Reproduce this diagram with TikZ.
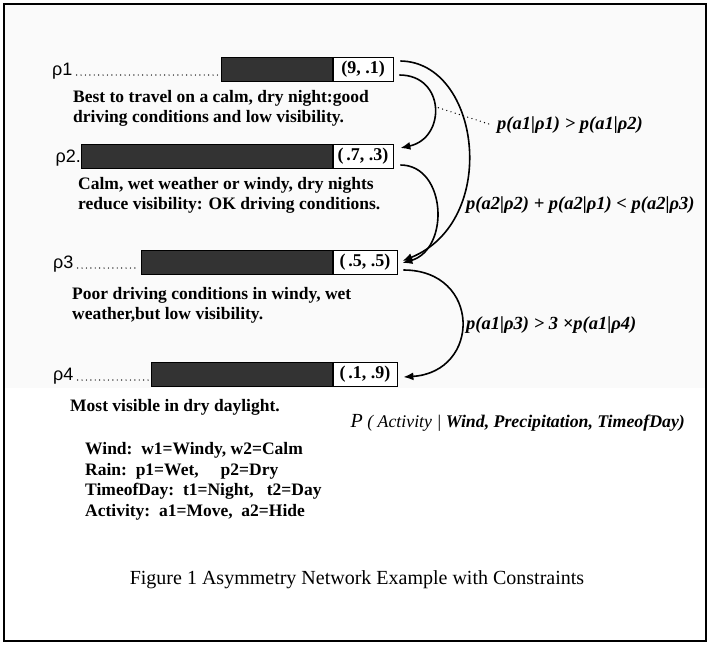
\documentclass[tikz,border=0pt]{standalone}
\usepackage{fontspec}
\setmainfont{Liberation Serif}
\newfontfamily\rhofont{Liberation Sans}
\usetikzlibrary{arrows.meta, positioning}

\begin{document}
\begin{tikzpicture}[
  x=1pt, y=-1pt,
  bar/.style={rectangle, draw=black, fill=black!80, minimum height=24pt,
    inner sep=0pt},
  valbox/.style={rectangle, draw=black, fill=white, thick, minimum height=24pt,
    minimum width=60pt, inner sep=0pt,
    font=\fontsize{18}{18}\selectfont\bfseries},
  rholab/.style={font=\rhofont\fontsize{18}{18}\selectfont, inner sep=0pt,
    anchor=base west},
  desc/.style={align=left, anchor=north west, inner sep=0pt,
    font=\fontsize{17.5}{20}\selectfont\bfseries},
  cons/.style={anchor=west, inner sep=0pt,
    font=\fontsize{18.5}{18.5}\selectfont\bfseries\itshape},
  leader/.style={line width=1.4pt, line cap=round, dash pattern=on 0pt off 4.4pt},
  arr/.style={-{Latex[length=10pt, width=8pt]}, line width=1.6pt},
]
  \useasboundingbox (0,0) rectangle (711,646);
  \fill[black!2] (5,5) rectangle (705,388);
  \draw[line width=1.6pt] (4,4) rectangle (706,641);

  % Rows
  \node[valbox] (v1) at (363,69) {(9, .1)};
  \node[bar, minimum width=111pt, left=0pt of v1] (b1) {};
  \node[rholab] (r1) at (52,75) {ρ1};
  \draw[leader] ([xshift=4pt]r1.base east) -- ([xshift=-2pt]b1.west |- r1.base);
  \node[desc] (d1) at (73,90) {Best to travel on a calm, dry night:good\\
    driving conditions and low visibility.};

  \node[valbox] (v2) at (363,156) {(\,.7, .3)};
  \node[bar, minimum width=251pt, left=0pt of v2] (b2) {};
  \node[rholab, anchor=base east] (r2) at (b2.west |- 0,162) {ρ2.};
  \node[desc] (d2) at (78,177) {Calm, wet weather or windy, dry nights\\
    reduce visibility: OK driving conditions.};

  \node[valbox, minimum width=64pt] (v3) at (365,262) {(\,.5, .5)};
  \node[bar, minimum width=191pt, left=0pt of v3] (b3) {};
  \node[rholab] (r3) at (53,268) {ρ3};
  \draw[leader] ([xshift=4pt]r3.base east) -- ([xshift=-2pt]b3.west |- r3.base);
  \node[desc] (d3) at (72,287) {Poor driving conditions in windy, wet\\
    weather,but low visibility.};

  \node[valbox, minimum width=64pt] (v4) at (365,374) {(\,.1, .9)};
  \node[bar, minimum width=181pt, left=0pt of v4] (b4) {};
  \node[rholab] (r4) at (53,380) {ρ4};
  \draw[leader] ([xshift=4pt]r4.base east) -- ([xshift=-2pt]b4.west |- r4.base);
  \node[desc] (d4) at (70,399) {Most visible in dry daylight.};

  % Constraint arrows
  \draw[arr] ([shift={(6,6)}]v1.east) .. controls +(46,0) and +(46,-10) ..
    coordinate[pos=0.5] (amid) ([shift={(7,-8)}]v2.east);
  \draw[arr] ([shift={(7,-8)}]v1.east) .. controls +(80,1) and +(98,-40) ..
    ([shift={(5,-1)}]v3.east);
  \draw[arr] ([shift={(7,9)}]v2.east) .. controls +(46,0) and +(48,-14) ..
    ([shift={(5,1)}]v3.east);
  \draw[arr] ([shift={(6,8)}]v3.east) .. controls +(78,0) and +(78,-5) ..
    ([shift={(6,3)}]v4.east);

  % Constraint labels
  \node[cons] (c1) at (497,125) {p(a1|ρ1) > p(a1|ρ2)};
  \draw[leader] ([xshift=4pt]amid) -- ([xshift=-5pt]c1.west);
  \node[cons] (c2) at (466,205) {p(a2|ρ2) + p(a2|ρ1) < p(a2|ρ3)};
  \node[cons] (c3) at (466,325) {p(a1|ρ3) > 3 ×p(a1|ρ4)};

  % Model and legend
  \node[anchor=east, inner sep=0pt, font=\fontsize{17.8}{17.8}\selectfont\itshape]
    (model) at (685,423) {{\fontsize{20}{20}\selectfont P} ( Activity |
    \textbf{Wind, Precipitation, TimeofDay)}};
  \node[desc, font=\fontsize{17.5}{20.7}\selectfont\bfseries] (legend) at (85,442)
    {Wind:~~w1=Windy, w2=Calm\\
     Rain:~~p1=Wet,\hspace{22pt}p2=Dry\\
     TimeofDay:~~t1=Night,~~~t2=Day\\
     Activity:~~a1=Move,~~a2=Hide};

  \node[font=\fontsize{20}{20}\selectfont] (caption) at (357,580)
    {Figure 1 Asymmetry Network Example with Constraints};
\end{tikzpicture}
\end{document}
